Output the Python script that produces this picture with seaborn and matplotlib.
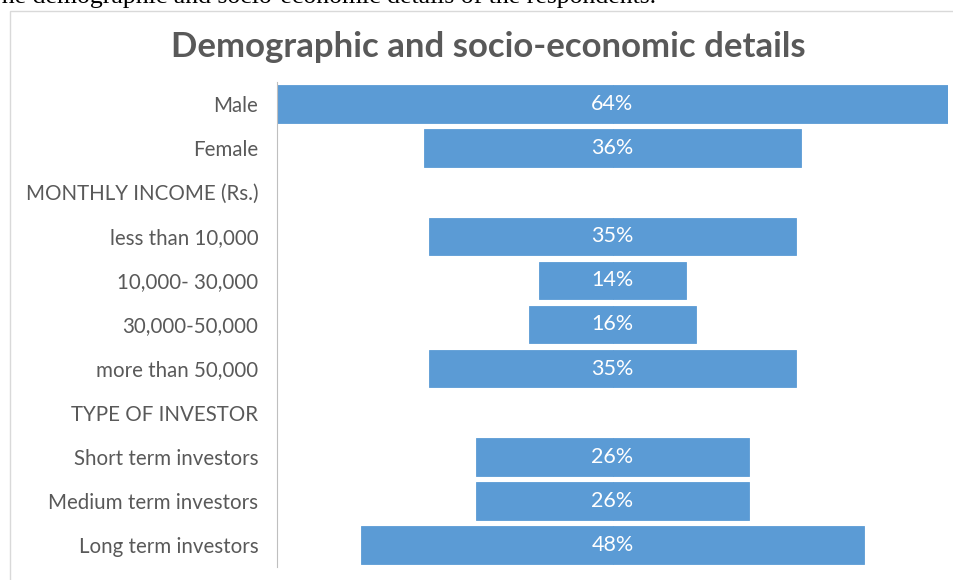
import matplotlib
matplotlib.use("Agg")
import matplotlib.pyplot as plt
import seaborn as sns
import pandas as pd
from matplotlib.patches import Rectangle

# data
categories = ["Male", "Female", "MONTHLY INCOME (Rs.)", "less than 10,000",
              "10,000- 30,000", "30,000-50,000", "more than 50,000",
              "TYPE OF INVESTOR", "Short term investors", "Medium term investors",
              "Long term investors"]
values = [64, 36, 0, 35, 14, 16, 35, 0, 26, 26, 48]
value_labels = ["64%", "36%", "", "35%", "14%", "16%", "35%", "", "26%", "26%", "48%"]

bar_color = "#5B9BD5"
text_color = "#595959"

sns.set_theme(style="white")
plt.rcParams["font.family"] = ["Lato", "DejaVu Sans"]

df = pd.DataFrame({"category": categories, "value": values})
df["half"] = df["value"] / 2

fig = plt.figure(figsize=(9.54, 5.8), dpi=100)
ax = fig.add_axes([277 / 954, 1 - 567 / 580, (948 - 277) / 954, 485 / 580])

# funnel: draw each bar as two halves around the centre
sns.barplot(data=df, x="half", y="category", color=bar_color, width=0.85,
            saturation=1, linewidth=0.6, edgecolor=bar_color, ax=ax)
sns.barplot(x=-df["half"], y=df["category"], color=bar_color, width=0.85,
            saturation=1, linewidth=0.6, edgecolor=bar_color, ax=ax)
# header rows have no bar
for p in ax.patches:
    if p.get_width() == 0:
        p.set_visible(False)

for i, lab in enumerate(value_labels):
    if lab:
        ax.text(0, i, lab, ha="center", va="center", color="white", fontsize=15.5)

ax.set_xlim(-max(values) / 2, max(values) / 2)
ax.set_xlabel("")
ax.set_ylabel("")
ax.set_xticks([])
ax.tick_params(axis="y", length=0, pad=13.5, labelsize=14.8, labelcolor=text_color)
for s in ["top", "right", "bottom"]:
    ax.spines[s].set_visible(False)
ax.spines["left"].set_color("#bfbfbf")
ax.spines["left"].set_linestyle((0, (1, 1)))
ax.spines["left"].set_linewidth(0.8)

fig.text(488 / 954, 1 - 47 / 580, "Demographic and socio-economic details",
         ha="center", va="center", fontsize=25, fontweight="bold", color=text_color)

# chart frame and the cut-off caption above it
fig.patches.append(Rectangle((10 / 954, -0.1), 1.2, 1 - 11 / 580 + 0.1,
                             transform=fig.transFigure, fill=False,
                             edgecolor="#d9d9d9", linewidth=1))
fig.text(-14 / 954, 1 - 3 / 580, "The demographic and socio-economic details of the respondents.",
         ha="left", va="baseline", fontsize=18.5, color="black",
         family=["Liberation Serif", "DejaVu Serif"])

fig.savefig("out.png", dpi=100)
